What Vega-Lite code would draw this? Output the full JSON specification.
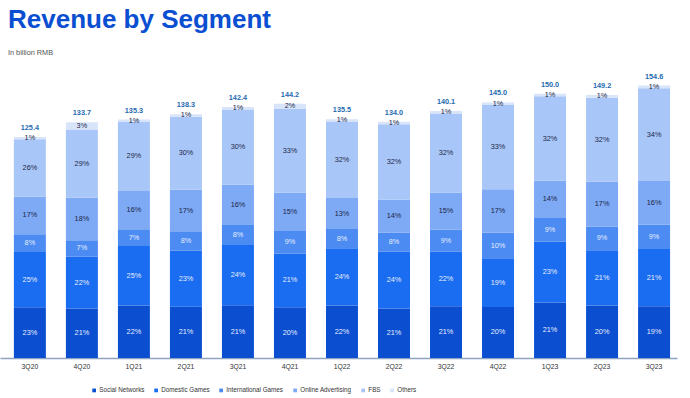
{
  "$schema": "https://vega.github.io/schema/vega-lite/v6.json",
  "width": 677,
  "height": 282,
  "autosize": {"type": "none"},
  "padding": {"left": 0, "top": 76, "right": 13, "bottom": 40},
  "background": "white",
  "title": {
    "text": "Revenue by Segment",
    "subtitle": "In billion RMB",
    "anchor": "start",
    "frame": "group",
    "dx": 8,
    "offset": 16,
    "font": "Liberation Sans",
    "fontSize": 26,
    "fontWeight": "bold",
    "color": "#0a4ed1",
    "subtitleFont": "Liberation Sans",
    "subtitleFontSize": 7.3,
    "subtitleColor": "#555555",
    "subtitlePadding": 16
  },
  "datasets": {
    "segments": [
      {"quarter": "3Q20", "segment": "Social Networks", "value": 28.84, "pct": 0.23},
      {"quarter": "3Q20", "segment": "Domestic Games", "value": 31.35, "pct": 0.25},
      {"quarter": "3Q20", "segment": "International Games", "value": 10.03, "pct": 0.08},
      {"quarter": "3Q20", "segment": "Online Advertising", "value": 21.32, "pct": 0.17},
      {"quarter": "3Q20", "segment": "FBS", "value": 32.60, "pct": 0.26},
      {"quarter": "3Q20", "segment": "Others", "value": 1.25, "pct": 0.01},
      {"quarter": "4Q20", "segment": "Social Networks", "value": 28.08, "pct": 0.21},
      {"quarter": "4Q20", "segment": "Domestic Games", "value": 29.41, "pct": 0.22},
      {"quarter": "4Q20", "segment": "International Games", "value": 9.36, "pct": 0.07},
      {"quarter": "4Q20", "segment": "Online Advertising", "value": 24.07, "pct": 0.18},
      {"quarter": "4Q20", "segment": "FBS", "value": 38.77, "pct": 0.29},
      {"quarter": "4Q20", "segment": "Others", "value": 4.01, "pct": 0.03},
      {"quarter": "1Q21", "segment": "Social Networks", "value": 29.77, "pct": 0.22},
      {"quarter": "1Q21", "segment": "Domestic Games", "value": 33.83, "pct": 0.25},
      {"quarter": "1Q21", "segment": "International Games", "value": 9.47, "pct": 0.07},
      {"quarter": "1Q21", "segment": "Online Advertising", "value": 21.65, "pct": 0.16},
      {"quarter": "1Q21", "segment": "FBS", "value": 39.24, "pct": 0.29},
      {"quarter": "1Q21", "segment": "Others", "value": 1.35, "pct": 0.01},
      {"quarter": "2Q21", "segment": "Social Networks", "value": 29.04, "pct": 0.21},
      {"quarter": "2Q21", "segment": "Domestic Games", "value": 31.81, "pct": 0.23},
      {"quarter": "2Q21", "segment": "International Games", "value": 11.06, "pct": 0.08},
      {"quarter": "2Q21", "segment": "Online Advertising", "value": 23.51, "pct": 0.17},
      {"quarter": "2Q21", "segment": "FBS", "value": 41.49, "pct": 0.30},
      {"quarter": "2Q21", "segment": "Others", "value": 1.38, "pct": 0.01},
      {"quarter": "3Q21", "segment": "Social Networks", "value": 29.90, "pct": 0.21},
      {"quarter": "3Q21", "segment": "Domestic Games", "value": 34.18, "pct": 0.24},
      {"quarter": "3Q21", "segment": "International Games", "value": 11.39, "pct": 0.08},
      {"quarter": "3Q21", "segment": "Online Advertising", "value": 22.78, "pct": 0.16},
      {"quarter": "3Q21", "segment": "FBS", "value": 42.72, "pct": 0.30},
      {"quarter": "3Q21", "segment": "Others", "value": 1.42, "pct": 0.01},
      {"quarter": "4Q21", "segment": "Social Networks", "value": 28.84, "pct": 0.20},
      {"quarter": "4Q21", "segment": "Domestic Games", "value": 30.28, "pct": 0.21},
      {"quarter": "4Q21", "segment": "International Games", "value": 12.98, "pct": 0.09},
      {"quarter": "4Q21", "segment": "Online Advertising", "value": 21.63, "pct": 0.15},
      {"quarter": "4Q21", "segment": "FBS", "value": 47.59, "pct": 0.33},
      {"quarter": "4Q21", "segment": "Others", "value": 2.88, "pct": 0.02},
      {"quarter": "1Q22", "segment": "Social Networks", "value": 29.81, "pct": 0.22},
      {"quarter": "1Q22", "segment": "Domestic Games", "value": 32.52, "pct": 0.24},
      {"quarter": "1Q22", "segment": "International Games", "value": 10.84, "pct": 0.08},
      {"quarter": "1Q22", "segment": "Online Advertising", "value": 17.62, "pct": 0.13},
      {"quarter": "1Q22", "segment": "FBS", "value": 43.36, "pct": 0.32},
      {"quarter": "1Q22", "segment": "Others", "value": 1.36, "pct": 0.01},
      {"quarter": "2Q22", "segment": "Social Networks", "value": 28.14, "pct": 0.21},
      {"quarter": "2Q22", "segment": "Domestic Games", "value": 32.16, "pct": 0.24},
      {"quarter": "2Q22", "segment": "International Games", "value": 10.72, "pct": 0.08},
      {"quarter": "2Q22", "segment": "Online Advertising", "value": 18.76, "pct": 0.14},
      {"quarter": "2Q22", "segment": "FBS", "value": 42.88, "pct": 0.32},
      {"quarter": "2Q22", "segment": "Others", "value": 1.34, "pct": 0.01},
      {"quarter": "3Q22", "segment": "Social Networks", "value": 29.42, "pct": 0.21},
      {"quarter": "3Q22", "segment": "Domestic Games", "value": 30.82, "pct": 0.22},
      {"quarter": "3Q22", "segment": "International Games", "value": 12.61, "pct": 0.09},
      {"quarter": "3Q22", "segment": "Online Advertising", "value": 21.02, "pct": 0.15},
      {"quarter": "3Q22", "segment": "FBS", "value": 44.83, "pct": 0.32},
      {"quarter": "3Q22", "segment": "Others", "value": 1.40, "pct": 0.01},
      {"quarter": "4Q22", "segment": "Social Networks", "value": 29.00, "pct": 0.20},
      {"quarter": "4Q22", "segment": "Domestic Games", "value": 27.55, "pct": 0.19},
      {"quarter": "4Q22", "segment": "International Games", "value": 14.50, "pct": 0.10},
      {"quarter": "4Q22", "segment": "Online Advertising", "value": 24.65, "pct": 0.17},
      {"quarter": "4Q22", "segment": "FBS", "value": 47.85, "pct": 0.33},
      {"quarter": "4Q22", "segment": "Others", "value": 1.45, "pct": 0.01},
      {"quarter": "1Q23", "segment": "Social Networks", "value": 31.50, "pct": 0.21},
      {"quarter": "1Q23", "segment": "Domestic Games", "value": 34.50, "pct": 0.23},
      {"quarter": "1Q23", "segment": "International Games", "value": 13.50, "pct": 0.09},
      {"quarter": "1Q23", "segment": "Online Advertising", "value": 21.00, "pct": 0.14},
      {"quarter": "1Q23", "segment": "FBS", "value": 48.00, "pct": 0.32},
      {"quarter": "1Q23", "segment": "Others", "value": 1.50, "pct": 0.01},
      {"quarter": "2Q23", "segment": "Social Networks", "value": 29.84, "pct": 0.20},
      {"quarter": "2Q23", "segment": "Domestic Games", "value": 31.33, "pct": 0.21},
      {"quarter": "2Q23", "segment": "International Games", "value": 13.43, "pct": 0.09},
      {"quarter": "2Q23", "segment": "Online Advertising", "value": 25.36, "pct": 0.17},
      {"quarter": "2Q23", "segment": "FBS", "value": 47.74, "pct": 0.32},
      {"quarter": "2Q23", "segment": "Others", "value": 1.49, "pct": 0.01},
      {"quarter": "3Q23", "segment": "Social Networks", "value": 29.37, "pct": 0.19},
      {"quarter": "3Q23", "segment": "Domestic Games", "value": 32.47, "pct": 0.21},
      {"quarter": "3Q23", "segment": "International Games", "value": 13.91, "pct": 0.09},
      {"quarter": "3Q23", "segment": "Online Advertising", "value": 24.74, "pct": 0.16},
      {"quarter": "3Q23", "segment": "FBS", "value": 52.56, "pct": 0.34},
      {"quarter": "3Q23", "segment": "Others", "value": 1.55, "pct": 0.01}
    ],
    "totals": [
      {"quarter": "3Q20", "total": 125.4},
      {"quarter": "4Q20", "total": 133.7},
      {"quarter": "1Q21", "total": 135.3},
      {"quarter": "2Q21", "total": 138.3},
      {"quarter": "3Q21", "total": 142.4},
      {"quarter": "4Q21", "total": 144.2},
      {"quarter": "1Q22", "total": 135.5},
      {"quarter": "2Q22", "total": 134.0},
      {"quarter": "3Q22", "total": 140.1},
      {"quarter": "4Q22", "total": 145.0},
      {"quarter": "1Q23", "total": 150.0},
      {"quarter": "2Q23", "total": 149.2},
      {"quarter": "3Q23", "total": 154.6}
    ]
  },
  "encoding": {
    "x": {
      "field": "quarter",
      "type": "nominal",
      "sort": null,
      "scale": {"paddingInner": 0.385, "paddingOuter": 0.2, "align": 0.667},
      "axis": {
        "title": null,
        "labelAngle": 0,
        "ticks": false,
        "labelFont": "Liberation Sans",
        "labelFontSize": 6.8,
        "labelColor": "#333333",
        "labelPadding": 5,
        "domainColor": "#8fa3c2",
        "domainWidth": 1.5
      }
    }
  },
  "layer": [
    {
      "data": {"name": "segments"},
      "transform": [
        {"calculate": "indexof(['Social Networks','Domestic Games','International Games','Online Advertising','FBS','Others'], datum.segment)", "as": "rank"}
      ],
      "mark": {"type": "bar"},
      "encoding": {
        "y": {
          "field": "value",
          "type": "quantitative",
          "stack": "zero",
          "scale": {"domain": [0, 160], "nice": false},
          "axis": null
        },
        "color": {
          "field": "segment",
          "type": "nominal",
          "scale": {
            "domain": ["Social Networks", "Domestic Games", "International Games", "Online Advertising", "FBS", "Others"],
            "range": ["#0b4fd0", "#1a6cf0", "#4b8bf2", "#7ea9f5", "#a9c6f8", "#d8e4fa"]
          },
          "legend": {
            "title": null,
            "orient": "none",
            "direction": "horizontal",
            "legendX": 91,
            "legendY": 311,
            "symbolType": "square",
            "symbolSize": 14,
            "symbolStrokeWidth": 0,
            "labelFont": "Liberation Sans",
            "labelFontSize": 6.3,
            "labelColor": "#333333",
            "labelOffset": 2,
            "columnPadding": 8
          }
        },
        "order": {"field": "rank", "sort": "ascending"}
      }
    },
    {
      "data": {"name": "segments"},
      "transform": [
        {"calculate": "indexof(['Social Networks','Domestic Games','International Games','Online Advertising','FBS','Others'], datum.segment)", "as": "rank"}
      ],
      "mark": {"type": "text", "font": "Liberation Sans", "fontSize": 7.3, "baseline": "middle"},
      "encoding": {
        "y": {
          "field": "value",
          "type": "quantitative",
          "stack": "zero",
          "bandPosition": 0.5
        },
        "detail": {"field": "segment"},
        "order": {"field": "rank", "sort": "ascending"},
        "text": {"field": "pct", "type": "quantitative", "format": ".0%"},
        "color": {
          "condition": {"test": "datum.rank < 3", "value": "#e6eeff"},
          "value": "#1c2747"
        }
      }
    },
    {
      "data": {"name": "totals"},
      "mark": {"type": "text", "font": "Liberation Sans", "fontSize": 7.3, "fontWeight": "bold", "baseline": "middle", "dy": -9, "color": "#1f6bb0"},
      "encoding": {
        "y": {"field": "total", "type": "quantitative"},
        "text": {"field": "total", "type": "quantitative", "format": ".1f"}
      }
    }
  ],
  "config": {
    "view": {"stroke": null},
    "font": "Liberation Sans"
  }
}
